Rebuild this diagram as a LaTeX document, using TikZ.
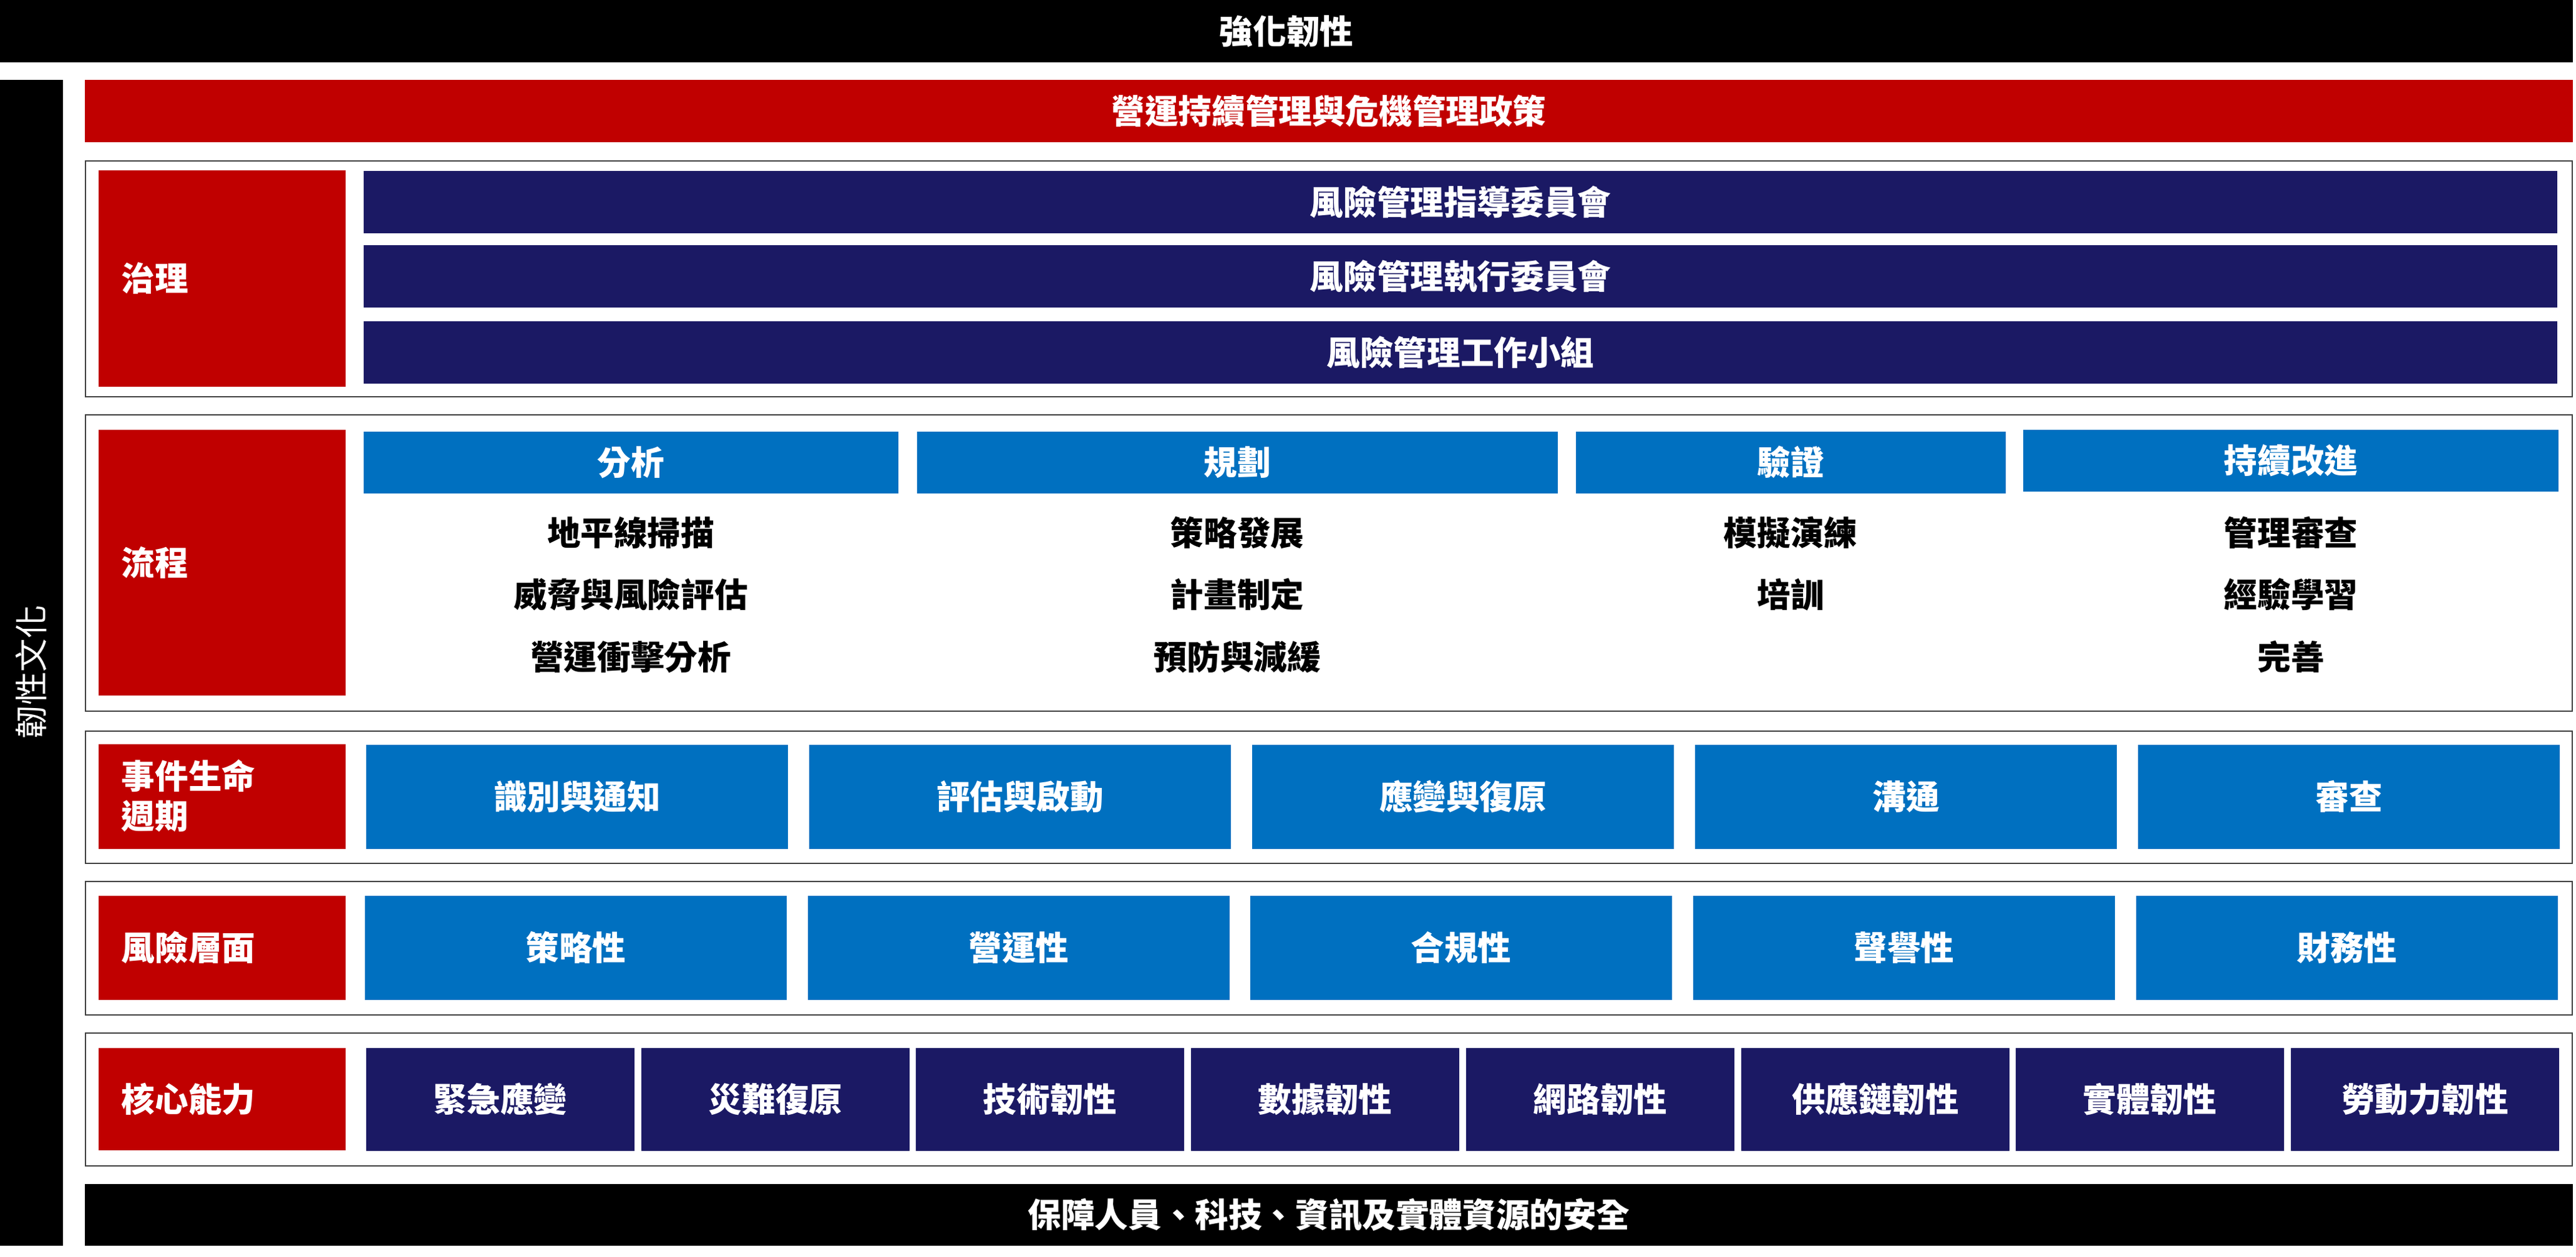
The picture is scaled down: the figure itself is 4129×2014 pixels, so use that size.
\documentclass[tikz,border=0pt]{standalone}
\usepackage{fontspec}
\setmainfont{Noto Sans CJK TC}
\usepackage{tikz}

\definecolor{crimson}{HTML}{C00000}
\definecolor{navy}{HTML}{1B1964}
\definecolor{azure}{HTML}{0070C0}
\definecolor{rim}{HTML}{404040}

\begin{document}
\begin{tikzpicture}[x=0.25pt,y=-0.25pt,
    rowframe/.style={draw=rim,line width=0.625pt},
    wtxt/.style={text=white,font=\fontsize{13.4}{16}\selectfont\bfseries,inner sep=0pt},
    btxt/.style={text=black,font=\fontsize{13.4}{16}\selectfont\bfseries,inner sep=0pt},
    lbl/.style={wtxt,anchor=west,align=left}]
  \useasboundingbox (0,0) rectangle (4129,2014);

  \fill[black] (0,0) rectangle (4124,100);
  \node[wtxt] (resil) at (2062,50) {強化韌性};

  \fill[black] (0,128) rectangle (101,1997);
  \node[wtxt,font=\fontsize{13.4}{16}\selectfont,rotate=90] (culture) at (50,1077) {韌性文化};

  \fill[crimson] (136,128) rectangle (4124,228);
  \node[wtxt] (policy) at (2130,178) {營運持續管理與危機管理政策};

  \draw[rowframe] (137,258) rectangle (4123,636);
  \fill[crimson] (158,273) rectangle (554,620);
  \node[lbl] (govlbl) at (194,446) {治理};
  \fill[navy] (583,274) rectangle (4099,374);
  \fill[navy] (583,393) rectangle (4099,493);
  \fill[navy] (583,515) rectangle (4099,615);
  \node[wtxt] (steer) at (2341,324) {風險管理指導委員會};
  \node[wtxt] (exec) at (2341,443) {風險管理執行委員會};
  \node[wtxt] (work) at (2341,565) {風險管理工作小組};

  \draw[rowframe] (137,665) rectangle (4123,1140);
  \fill[crimson] (158,689) rectangle (554,1115);
  \node[lbl] (proclbl) at (194,902) {流程};
  \fill[azure] (583,692) rectangle (1440,791);
  \fill[azure] (1470,692) rectangle (2497,791);
  \fill[azure] (2526,692) rectangle (3215,791);
  \fill[azure] (3243,689) rectangle (4101,788);
  \node[wtxt] (analyse) at (1011,741) {分析};
  \node[wtxt] (plan) at (1983,741) {規劃};
  \node[wtxt] (verify) at (2870,741) {驗證};
  \node[wtxt] (improve) at (3672,738) {持續改進};
  \node[btxt] (scan) at (1011,854) {地平線掃描};
  \node[btxt] (threat) at (1011,953) {威脅與風險評估};
  \node[btxt] (impact) at (1011,1053) {營運衝擊分析};
  \node[btxt] (strategy) at (1983,854) {策略發展};
  \node[btxt] (planning) at (1983,953) {計畫制定};
  \node[btxt] (prevent) at (1983,1053) {預防與減緩};
  \node[btxt] (drill) at (2870,854) {模擬演練};
  \node[btxt] (train) at (2870,953) {培訓};
  \node[btxt] (review) at (3672,854) {管理審查};
  \node[btxt] (lesson) at (3672,953) {經驗學習};
  \node[btxt] (refine) at (3672,1053) {完善};

  \draw[rowframe] (137,1172) rectangle (4123,1384);
  \fill[crimson] (158,1193) rectangle (554,1361);
  \node[lbl] (eventlbl) at (194,1276) {事件生命\\週期};
  \fill[azure] (587,1194) rectangle (1263,1361);
  \fill[azure] (1297,1194) rectangle (1973,1361);
  \fill[azure] (2007,1194) rectangle (2683,1361);
  \fill[azure] (2717,1194) rectangle (3393,1361);
  \fill[azure] (3427,1194) rectangle (4103,1361);
  \node[wtxt] (identify) at (925,1277) {識別與通知};
  \node[wtxt] (assess) at (1635,1277) {評估與啟動};
  \node[wtxt] (respond) at (2345,1277) {應變與復原};
  \node[wtxt] (comms) at (3055,1277) {溝通};
  \node[wtxt] (audit) at (3765,1277) {審查};

  \draw[rowframe] (137,1413) rectangle (4123,1627);
  \fill[crimson] (158,1436) rectangle (554,1603);
  \node[lbl] (risklbl) at (194,1519) {風險層面};
  \fill[azure] (585,1436) rectangle (1261,1603);
  \fill[azure] (1295,1436) rectangle (1971,1603);
  \fill[azure] (2004,1436) rectangle (2680,1603);
  \fill[azure] (2714,1436) rectangle (3390,1603);
  \fill[azure] (3424,1436) rectangle (4100,1603);
  \node[wtxt] (strat) at (923,1519) {策略性};
  \node[wtxt] (oper) at (1633,1519) {營運性};
  \node[wtxt] (comply) at (2342,1519) {合規性};
  \node[wtxt] (reput) at (3052,1519) {聲譽性};
  \node[wtxt] (finance) at (3762,1519) {財務性};

  \draw[rowframe] (137,1656) rectangle (4123,1869);
  \fill[crimson] (158,1680) rectangle (554,1844);
  \node[lbl] (corelbl) at (194,1762) {核心能力};
  \fill[navy] (587,1680) rectangle (1017,1845);
  \fill[navy] (1028,1680) rectangle (1458,1845);
  \fill[navy] (1468,1680) rectangle (1898,1845);
  \fill[navy] (1909,1680) rectangle (2339,1845);
  \fill[navy] (2350,1680) rectangle (2780,1845);
  \fill[navy] (2791,1680) rectangle (3221,1845);
  \fill[navy] (3231,1680) rectangle (3661,1845);
  \fill[navy] (3672,1680) rectangle (4102,1845);
  \node[wtxt] (emerg) at (802,1762) {緊急應變};
  \node[wtxt] (disaster) at (1243,1762) {災難復原};
  \node[wtxt] (tech) at (1683,1762) {技術韌性};
  \node[wtxt] (data) at (2124,1762) {數據韌性};
  \node[wtxt] (network) at (2565,1762) {網路韌性};
  \node[wtxt] (supply) at (3006,1762) {供應鏈韌性};
  \node[wtxt] (physical) at (3446,1762) {實體韌性};
  \node[wtxt] (labour) at (3887,1762) {勞動力韌性};

  \fill[black] (136,1898) rectangle (4124,1997);
  \node[wtxt] (secure) at (2130,1947) {保障人員、科技、資訊及實體資源的安全};
\end{tikzpicture}
\end{document}
